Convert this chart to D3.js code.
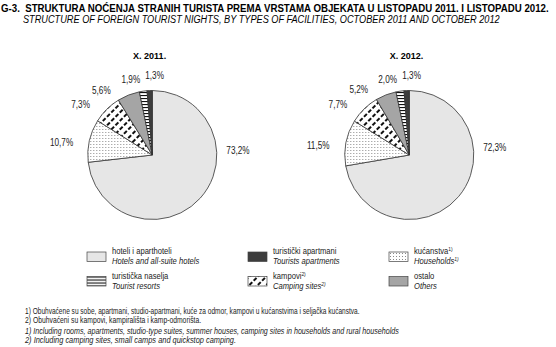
<!DOCTYPE html>
<html><head><meta charset="utf-8">
<script src="https://cdn.jsdelivr.net/npm/d3@7"></script>
<style>body{margin:0;background:#fff} svg{display:block}</style>
</head><body>
<svg id="c" width="556" height="347"></svg>
<script>
// ---- data ----
const categories   = ["hoteli i aparthoteli", "kućanstva", "kampovi", "ostalo", "turistička naselja", "turistički apartmani"];
const categoriesEn = ["Hotels and all-suite hotels", "Households", "Camping sites", "Others", "Tourist resorts", "Tourists apartments"];
const categoryNotes = ["", "1)", "2)", "", "", ""];
const years = ["X. 2011.", "X. 2012."];
const values2011 = [73.2, 10.7, 7.3, 5.6, 1.9, 1.3];
const values2012 = [72.3, 11.5, 7.7, 5.2, 2.0, 1.3];
const legendOrder = [0, 5, 1, 4, 2, 3];
const titleHr = "G-3.  STRUKTURA NOĆENJA STRANIH TURISTA PREMA VRSTAMA OBJEKATA U LISTOPADU 2011. I LISTOPADU 2012.";
const titleEn = "STRUCTURE OF FOREIGN TOURIST NIGHTS, BY TYPES OF FACILITIES, OCTOBER 2011 AND OCTOBER 2012";
const footnotes = [
  "1) Obuhvaćene su sobe, apartmani, studio-apartmani, kuće za odmor, kampovi u kućanstvima i seljačka kućanstva.",
  "2) Obuhvaćeni su kampovi, kampirališta i kamp-odmorišta.",
  "1) Including rooms, apartments, studio-type suites, summer houses, camping sites in households and rural households",
  "2) Including camping sites, small camps and quickstop camping."
];

// ---- styles / layout ----
const FONT = "'Liberation Sans Narrow','Arial Narrow','Liberation Sans',Arial,sans-serif";
const NARROW = 0.82;
const fills = ["#e6e6e6", "url(#pDots)", "url(#pDash)", "#a5a5a5", "url(#pLines)", "#3d3d3d"];
const svg = d3.select("#c").style("font-family", FONT);

// squeeze a text horizontally to a target width (narrow-font look)
function fitWidth(sel, x, y, w) {
  sel.attr("x", 0).attr("y", 0);
  const natural = sel.node().getComputedTextLength();
  const sx = Math.min(1, w / natural);
  sel.attr("transform", `translate(${x},${y}) scale(${sx},1)`);
  return sel;
}

const defs = svg.append("defs");
const pd = defs.append("pattern").attr("id", "pDots").attr("patternUnits", "userSpaceOnUse").attr("width", 3).attr("height", 3);
pd.append("rect").attr("width", 3).attr("height", 3).attr("fill", "#fff");
pd.append("rect").attr("x", 1).attr("y", 1).attr("width", 1).attr("height", 1).attr("fill", "#8a8a8a");
const pl = defs.append("pattern").attr("id", "pLines").attr("patternUnits", "userSpaceOnUse").attr("width", 4).attr("height", 3);
pl.append("rect").attr("width", 4).attr("height", 3).attr("fill", "#fff");
pl.append("rect").attr("y", 0).attr("width", 4).attr("height", 1.1).attr("fill", "#111");
const pk = defs.append("pattern").attr("id", "pDash").attr("patternUnits", "userSpaceOnUse")
  .attr("width", 6).attr("height", 6).attr("patternTransform", "rotate(45)");
pk.append("rect").attr("width", 6).attr("height", 6).attr("fill", "#fff");
pk.append("rect").attr("x", 0).attr("y", 1).attr("width", 2).attr("height", 4).attr("fill", "#111");

// titles
fitWidth(svg.append("text").attr("font-weight", "bold").attr("font-size", 10.5)
  .attr("xml:space", "preserve").text(titleHr), 1, 11.5, 548);
fitWidth(svg.append("text").attr("font-style", "italic").attr("font-size", 10)
  .text(titleEn), 23, 22.5, 477);

// pies
const R = 64.5, CY = 155;
const centers = [152.3, 409.3];
const pie = d3.pie().sort(null).value(d => d);
const arc = d3.arc().innerRadius(0).outerRadius(R);
const fmt = v => d3.format(".1f")(v).replace(".", ",") + "%";
const labelNudge = [{da: -45, rf: 1.33}, {da: -5, rf: 1.42}, {da: -10, rf: 1.36},
                    {da: -16.5, rf: 1.28}, {da: -7.7, rf: 1.22}, {da: 4, rf: 1.24}];
const labelPos = (d, i) => {
  const a = (d.startAngle + d.endAngle) / 2 + labelNudge[i].da * Math.PI / 180;
  return [Math.sin(a) * R * labelNudge[i].rf, -Math.cos(a) * R * labelNudge[i].rf];
};

[values2011, values2012].forEach((vals, k) => {
  const g = svg.append("g").attr("transform", `translate(${centers[k]},${CY})`);
  const arcs = pie(vals);
  g.selectAll("path").data(arcs).join("path")
    .attr("d", arc).attr("fill", (d, i) => fills[i])
    .attr("stroke", "#333").attr("stroke-width", 0.8).attr("stroke-linejoin", "round");
  g.selectAll("text.lbl").data(arcs).join("text").attr("class", "lbl")
    .attr("transform", (d, i) => { const p = labelPos(d, i); return `translate(${p[0]},${p[1]}) scale(${NARROW},1)`; })
    .attr("dy", "0.35em").attr("text-anchor", "middle").attr("font-size", 10).attr("fill", "#222")
    .text(d => fmt(d.data));
  g.append("text").attr("x", -2.7).attr("y", -96).attr("text-anchor", "middle")
    .attr("font-weight", "bold").attr("font-size", 9).text(years[k]);
});

// legend
const colX = [87, 248, 389], rowY = [252, 276.5];
legendOrder.forEach((ci, j) => {
  const x = colX[j % 3], y = rowY[Math.floor(j / 3)];
  const g = svg.append("g").attr("transform", `translate(${x},${y})`);
  g.append("rect").attr("width", 19).attr("height", 9.5).attr("fill", fills[ci]).attr("stroke", "#444").attr("stroke-width", 0.7);
  const t1 = g.append("text").attr("transform", `translate(25,2.4) scale(${NARROW},1)`)
    .attr("font-size", 9.3).attr("fill", "#222").text(categories[ci]);
  const t2 = g.append("text").attr("transform", `translate(25,12) scale(${NARROW},1)`)
    .attr("font-size", 9.3).attr("font-style", "italic").attr("fill", "#222").text(categoriesEn[ci]);
  if (categoryNotes[ci]) {
    [t1, t2].forEach(t => t.append("tspan").attr("dy", -3).attr("font-size", 6).text(categoryNotes[ci]));
  }
});

// footnotes
const fnY = [314, 323, 334, 342.5], fnW = [335, 176, 374, 211];
footnotes.forEach((f, i) => {
  fitWidth(svg.append("text").attr("font-size", 8.7).attr("fill", "#222")
    .attr("font-style", i >= 2 ? "italic" : null).text(f), 25, fnY[i], fnW[i]);
});
</script>
</body></html>
